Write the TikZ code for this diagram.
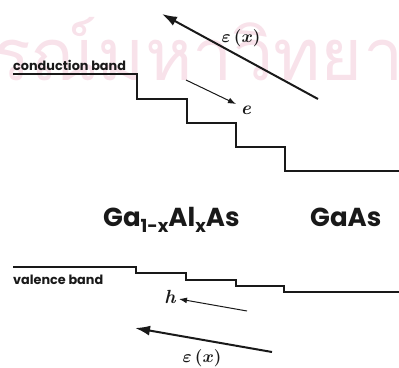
\documentclass[tikz,border=0pt]{standalone}
\usepackage{fontspec}
\newfontfamily\pop{Poppins}
\newfontfamily\thaifont[Script=Thai]{Loma}
\usetikzlibrary{arrows.meta}
\definecolor{wm}{RGB}{248,226,234}
\definecolor{ink}{RGB}{25,25,25}
\newcommand{\mysub}[1]{\raisebox{-6pt}{\fontsize{18}{20}\selectfont #1}}
\tikzset{
  band/.style={line width=1.5pt, line join=miter, draw=ink},
  field/.style={line width=2pt, draw=ink, -{Latex[length=15pt,width=10pt]}},
  carrier/.style={line width=1pt, draw=ink, -{Latex[length=8pt,width=6pt]}},
  bandlabel/.style={font=\pop\bfseries\fontsize{12.8}{14}\selectfont, inner sep=0pt, text=ink},
  matlabel/.style={font=\pop\bfseries\fontsize{26}{29}\selectfont, inner sep=0pt, text=ink},
  fieldlabel/.style={font=\boldmath\fontsize{16}{18}\selectfont, inner sep=0pt, text=ink},
  carrlabel/.style={font=\bfseries\itshape\fontsize{19}{21}\selectfont, inner sep=0pt, text=ink}
}
\begin{document}
\begin{tikzpicture}[x=1pt,y=-1pt]
\useasboundingbox (0,0) rectangle (399,367);
\begin{scope}
\clip (0,0) rectangle (399,367);
\node[text=wm, font=\thaifont\fontsize{72}{80}\selectfont, anchor=base west, inner sep=0pt] (wmark) at (-8,80) {รณ์มหาวิทยา};
\end{scope}
% conduction band
\coordinate (c0) at (13,74);
\coordinate (c1) at (399,171);
\draw[band] (c0) -- (137,74) |- (187,99) |- (236,123) |- (285,147) |- (c1);
\node[bandlabel, anchor=base west] (cb) at (13,70) {conduction band};
% field top
\coordinate (ft0) at (318,99);
\coordinate (ft1) at (162,14);
\draw[field] (ft0) -- (ft1);
\node[fieldlabel] (ftl) at (241,38) {$\varepsilon\,(x)$};
% electron
\coordinate (e0) at (186,80);
\coordinate (e1) at (236,104);
\draw[carrier] (e0) -- (e1);
\node[carrlabel] (el) at (246,110) {e};
% materials
\node[matlabel, anchor=base west] (m1) at (103,226) {Ga\mysub{1-x}Al\mysub{x}As};
\node[matlabel, anchor=base west] (m2) at (310,226) {GaAs};
% valence band
\coordinate (v0) at (13,267);
\coordinate (v1) at (399,292);
\draw[band] (v0) -- (136,267) |- (186,273) |- (236,280) |- (284,286) |- (v1);
\node[bandlabel, anchor=base west] (vb) at (13,284) {valence band};
% hole
\coordinate (h0) at (247,311);
\coordinate (h1) at (179,299);
\draw[carrier] (h0) -- (h1);
\node[carrlabel] (hl) at (170,297) {h};
% field bottom
\coordinate (fb0) at (272,352);
\coordinate (fb1) at (135,328);
\draw[field] (fb0) -- (fb1);
\node[fieldlabel] (fbl) at (202,358) {$\varepsilon\,(x)$};
\end{tikzpicture}
\end{document}
